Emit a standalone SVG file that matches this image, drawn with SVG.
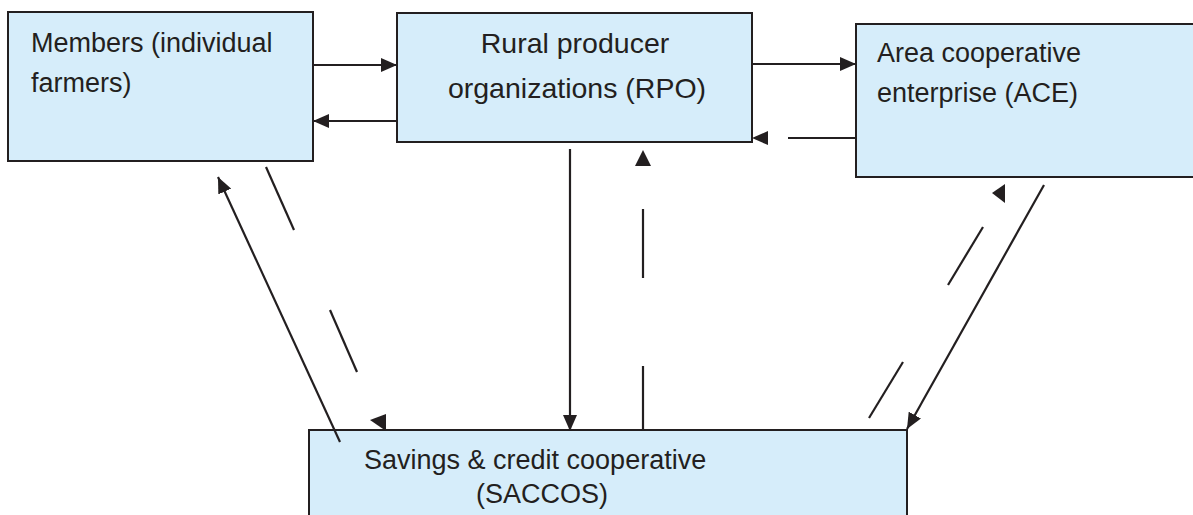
<svg xmlns="http://www.w3.org/2000/svg" width="1193" height="515" viewBox="0 0 1193 515">
<style>
.box{fill:#d6edfa;stroke:#231f20;stroke-width:2}
.lbl{font-family:"Liberation Sans",Arial,sans-serif;font-size:27px;fill:#231f20}
.big{font-size:28.5px}
.c{fill:none;stroke:#231f20;stroke-width:2.2}
.ah{fill:#231f20;stroke:none}
</style>
<defs>
<marker id="arr" markerUnits="userSpaceOnUse" viewBox="0 0 16 14" refX="16" refY="7" markerWidth="16" markerHeight="14" orient="auto">
<path d="M0,0 L16,7 L0,14 Z" fill="#231f20"/>
</marker>
</defs>
<rect width="1193" height="515" fill="#ffffff"/>
<g id="members">
<rect class="box" x="8" y="12" width="305" height="149"/>
<text class="lbl" x="31" y="52">Members (individual</text>
<text class="lbl" x="31" y="92">farmers)</text>
</g>
<g id="rpo">
<rect class="box" x="397" y="13" width="355" height="129"/>
<text class="lbl big" x="575" y="53" text-anchor="middle">Rural producer</text>
<text class="lbl big" x="577" y="98" text-anchor="middle">organizations (RPO)</text>
</g>
<g id="ace">
<rect class="box" x="856" y="24" width="345" height="153"/>
<text class="lbl" x="877" y="62">Area cooperative</text>
<text class="lbl" x="877" y="102">enterprise (ACE)</text>
</g>
<g id="saccos">
<rect class="box" x="309" y="430" width="598" height="95"/>
<text class="lbl" x="364" y="469">Savings &amp; credit cooperative</text>
<text class="lbl" x="476" y="503">(SACCOS)</text>
</g>
<g id="connectors">
<line class="c" x1="313" y1="65" x2="397" y2="65" marker-end="url(#arr)"/>
<line class="c" x1="397" y1="121" x2="313" y2="121" marker-end="url(#arr)"/>
<line class="c" x1="752" y1="64" x2="856" y2="64" marker-end="url(#arr)"/>
<path class="c" d="M856,138 L752,138" stroke-dasharray="68 40" marker-end="url(#arr)"/>
<line class="c" x1="340" y1="442" x2="218" y2="177" marker-end="url(#arr)"/>
<line class="c" x1="266" y1="167" x2="294" y2="230"/>
<line class="c" x1="330" y1="310" x2="357" y2="372"/>
<polygon class="ah" points="370,420 386,414 386,431"/>
<line class="c" x1="570" y1="149" x2="570" y2="431" marker-end="url(#arr)"/>
<line class="c" x1="643" y1="431" x2="643" y2="366"/>
<line class="c" x1="643" y1="278" x2="643" y2="209"/>
<polygon class="ah" points="643,150 635,166 651,166"/>
<line class="c" x1="1044" y1="185" x2="907" y2="429" marker-end="url(#arr)"/>
<line class="c" x1="869" y1="418" x2="903" y2="362"/>
<line class="c" x1="948" y1="285" x2="983" y2="227"/>
<polygon class="ah" points="992,193 1005,184 1005,203"/>
</g>
</svg>
